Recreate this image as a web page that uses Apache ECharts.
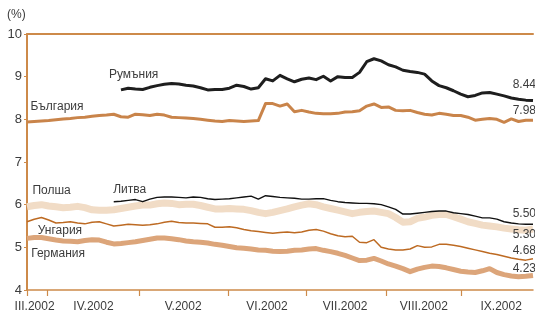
<!DOCTYPE html>
<html>
<head>
<meta charset="utf-8">
<script src="https://cdn.jsdelivr.net/npm/echarts@6/dist/echarts.min.js"></script>
<style>
  html, body { margin: 0; padding: 0; background: #fff; }
  #chart { width: 535px; height: 315px; }
</style>
</head>
<body>
<div id="chart"></div>
<script>
var chart = echarts.init(document.getElementById('chart'));

// дни (търговски), през 2
var days = [];
for (var i = 0; i <= 140; i += 2) days.push(i);

var monthLabels = ['III.2002', 'IV.2002', 'V.2002', 'VI.2002', 'VII.2002', 'VIII.2002', 'IX.2002'];
var monthLabelPos = [2.1, 18.4, 43.2, 66.4, 88, 109.8, 131.2];
var monthBounds = [0, 5.5, 31, 55.6, 77.2, 99.3, 120.1];

var bulgaria = [7.94, 7.95, 7.96, 7.97, 7.99, 8.01, 8.02, 8.04, 8.05, 8.07, 8.09, 8.10, 8.12, 8.06, 8.05, 8.12,
  8.11, 8.09, 8.12, 8.10, 8.05, 8.04, 8.03, 8.02, 8.00, 7.98, 7.96, 7.95, 7.97, 7.96, 7.95, 7.96, 7.97,
  8.37, 8.37, 8.31, 8.36, 8.18, 8.21, 8.17, 8.14, 8.13, 8.13, 8.14, 8.17, 8.18, 8.20, 8.31, 8.36, 8.28,
  8.29, 8.21, 8.20, 8.21, 8.16, 8.12, 8.10, 8.14, 8.12, 8.09, 8.09, 8.05, 7.98, 8.00, 8.02, 8.00, 7.93,
  8.01, 7.95, 7.98, 7.98];

var romania = [null, null, null, null, null, null, null, null, null, null, null, null, null,
  8.69, 8.73, 8.71, 8.70, 8.75, 8.79, 8.82, 8.84, 8.83, 8.80, 8.78, 8.74, 8.69, 8.70, 8.70, 8.73,
  8.80, 8.77, 8.71, 8.74, 8.95, 8.90, 9.03, 8.95, 8.88, 8.94, 8.97, 8.93, 9.01, 8.90, 9.00, 8.98,
  8.98, 9.10, 9.35, 9.42, 9.37, 9.28, 9.23, 9.15, 9.12, 9.10, 9.06, 8.90, 8.79, 8.74, 8.67, 8.59,
  8.53, 8.56, 8.62, 8.63, 8.59, 8.55, 8.50, 8.47, 8.45, 8.44];

var lithuania = [null, null, null, null, null, null, null, null, null, null, null, null,
  6.07, 6.08, 6.10, 6.12, 6.07, 6.13, 6.17, 6.18, 6.18, 6.17, 6.16, 6.18, 6.17, 6.14, 6.12, 6.13,
  6.14, 6.16, 6.18, 6.20, 6.13, 6.21, 6.19, 6.17, 6.16, 6.15, 6.13, 6.13, 6.14, 6.14, 6.10, 6.07,
  6.05, 6.04, 6.03, 6.03, 6.02, 6.00, 5.95, 5.89, 5.78, 5.78, 5.80, 5.82, 5.84, 5.85, 5.85, 5.81,
  5.79, 5.77, 5.73, 5.69, 5.69, 5.66, 5.60, 5.57, 5.55, 5.54, 5.54];

var poland = [5.95, 5.98, 6.00, 5.97, 5.95, 5.93, 5.94, 5.96, 5.93, 5.88, 5.87, 5.87, 5.88, 5.91, 5.94,
  5.97, 5.99, 5.99, 6.02, 6.04, 6.03, 6.00, 6.01, 6.01, 5.98, 5.94, 5.90, 5.90, 5.91, 5.90, 5.89,
  5.86, 5.82, 5.79, 5.82, 5.86, 5.90, 5.95, 5.99, 6.02, 6.00, 5.95, 5.91, 5.87, 5.83, 5.79, 5.82,
  5.84, 5.85, 5.82, 5.79, 5.70, 5.59, 5.60, 5.68, 5.71, 5.75, 5.77, 5.77, 5.72, 5.66, 5.60, 5.56,
  5.52, 5.50, 5.48, 5.45, 5.43, 5.41, 5.40, 5.43];

var hungary = [5.60, 5.66, 5.70, 5.64, 5.57, 5.58, 5.60, 5.57, 5.55, 5.59, 5.60, 5.55, 5.50, 5.52, 5.54,
  5.53, 5.52, 5.53, 5.55, 5.59, 5.61, 5.58, 5.57, 5.57, 5.56, 5.55, 5.47, 5.47, 5.48, 5.46, 5.42,
  5.39, 5.37, 5.35, 5.33, 5.35, 5.36, 5.34, 5.36, 5.40, 5.42, 5.38, 5.32, 5.27, 5.25, 5.26, 5.12,
  5.11, 5.18, 5.00, 4.96, 4.94, 4.94, 4.96, 5.04, 5.00, 5.01, 5.07, 5.07, 5.05, 5.02, 4.98, 4.94,
  4.90, 4.86, 4.83, 4.79, 4.75, 4.72, 4.70, 4.73];

var germany = [5.21, 5.23, 5.23, 5.20, 5.17, 5.15, 5.14, 5.13, 5.16, 5.18, 5.17, 5.12, 5.08, 5.09, 5.11,
  5.13, 5.16, 5.19, 5.22, 5.22, 5.20, 5.18, 5.15, 5.13, 5.12, 5.10, 5.07, 5.05, 5.02, 4.99, 4.98,
  4.96, 4.94, 4.93, 4.91, 4.90, 4.91, 4.93, 4.94, 4.96, 4.97, 4.93, 4.90, 4.86, 4.81, 4.75, 4.69,
  4.70, 4.74, 4.68, 4.61, 4.56, 4.50, 4.43, 4.49, 4.53, 4.56, 4.55, 4.52, 4.48, 4.44, 4.42, 4.41,
  4.45, 4.50, 4.41, 4.36, 4.33, 4.31, 4.32, 4.34];

// надписи: име, последна стойност
var names = ['Румъния', 'България', 'Полша', 'Литва', 'Унгария', 'Германия'];
var lastValues = ['8.44', '7.98', '5.50', '5.30', '4.68', '4.23'];
var nameAt = [[29.5, 9.05], [8.3, 8.30], [6.8, 6.32], [28.4, 6.34], [9.1, 5.38], [8.6, 4.84]];
var lastAt = [[137.6, 8.81], [137.6, 8.21], [137.6, 5.78], [137.6, 5.30], [137.6, 4.91], [137.6, 4.51]];

var FONT = '"Liberation Sans", Arial, sans-serif';
var AXIS = '#cd8a4a';
var TXT = '#3c3c3c';

function pairs(vals) {
  return days.map(function (d, i) { return [d, vals[i]]; });
}

function labels(k) {
  return {
    symbolSize: 0,
    silent: true,
    label: { show: true, position: 'inside', color: TXT, fontSize: 12, fontFamily: FONT },
    data: [
      { coord: nameAt[k], label: { formatter: names[k] } },
      { coord: lastAt[k], label: { formatter: lastValues[k] } }
    ]
  };
}

function line(k, vals, color, width, z) {
  return {
    name: names[k],
    type: 'line',
    data: pairs(vals),
    showSymbol: false,
    connectNulls: false,
    z: z,
    lineStyle: { color: color, width: width, join: 'round' },
    markPoint: labels(k),
    animation: false
  };
}

var option = {
  animation: false,
  grid: { left: 27, right: 2, top: 34, bottom: 25 },
  textStyle: { fontFamily: FONT },
  graphic: [{
    type: 'text', left: 7, top: 9,
    style: { text: '(%)', fill: TXT, font: '12px ' + FONT }
  }],
  xAxis: [{
    type: 'value', min: 0, max: 140,
    axisLine: { lineStyle: { color: AXIS, width: 1.5 } },
    axisTick: { length: 6, lineStyle: { color: AXIS, width: 1.2 }, customValues: monthBounds },
    axisLabel: {
      customValues: monthLabelPos, color: TXT, fontSize: 12, margin: 11, fontFamily: FONT,
      formatter: function (v) { return monthLabels[monthLabelPos.indexOf(v)]; }
    },
    splitLine: { show: false }
  }, {
    type: 'value', min: 0, max: 140, position: 'top',
    axisLine: { show: true, lineStyle: { color: AXIS, width: 2 } },
    axisTick: { show: false }, axisLabel: { show: false }, splitLine: { show: false }
  }],
  yAxis: {
    type: 'value', min: 4, max: 10, interval: 1,
    axisLine: { show: true, lineStyle: { color: AXIS, width: 2 } },
    axisTick: { show: true, length: 3, lineStyle: { color: AXIS } },
    axisLabel: { color: TXT, fontSize: 13, margin: 5, fontFamily: FONT },
    splitLine: { show: false }
  },
  series: [
    line(2, poland, '#f1dcc6', 7, 2),
    line(5, germany, '#dca57a', 5, 2),
    line(4, hungary, '#bd6a22', 1.5, 3),
    line(3, lithuania, '#111111', 1.4, 4),
    line(1, bulgaria, '#c9844a', 3, 3),
    line(0, romania, '#1e1e1e', 3, 4)
  ]
};
chart.setOption(option);
</script>
</body>
</html>
